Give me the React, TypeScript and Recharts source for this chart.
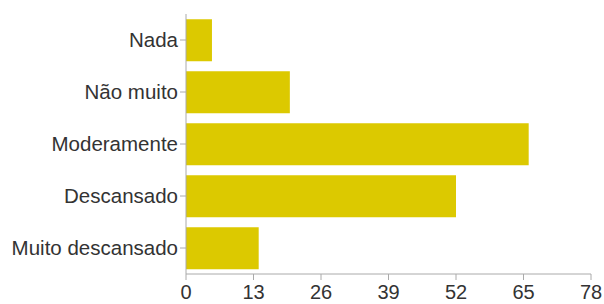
import { Bar, BarChart, XAxis, YAxis } from 'recharts'

const categories = ['Nada', 'Não muito', 'Moderamente', 'Descansado', 'Muito descansado']
const counts = [5, 20, 66, 52, 14]
const xTicks = [0, 13, 26, 39, 52, 65, 78]

const data = categories.map((name, i) => ({ name, value: counts[i] }))

const AXIS = '#aaaaaa'
const TEXT = '#333333'
const FONT = '"Liberation Sans", Arial, sans-serif'

export default function App() {
  return (
    <div style={{ position: 'absolute', left: 0, top: 0, width: 604, height: 304, background: '#fff' }}>
      <BarChart
        width={604}
        height={304}
        data={data}
        layout="vertical"
        margin={{ top: 14, right: 13, left: 0, bottom: 0 }}
        barCategoryGap="10%"
        style={{ fontFamily: FONT }}
      >
        <XAxis
          type="number"
          domain={[0, 78]}
          ticks={xTicks}
          height={30}
          stroke={AXIS}
          tickSize={6}
          tickMargin={5}
          tick={{ fontSize: 20, fill: TEXT, fontFamily: FONT }}
        />
        <YAxis
          type="category"
          dataKey="name"
          width={186}
          stroke={AXIS}
          tickSize={6}
          tick={{ fontSize: 20.5, fill: TEXT, fontFamily: FONT }}
        />
        <Bar dataKey="value" fill="#dcc900" isAnimationActive={false} />
      </BarChart>
    </div>
  )
}
